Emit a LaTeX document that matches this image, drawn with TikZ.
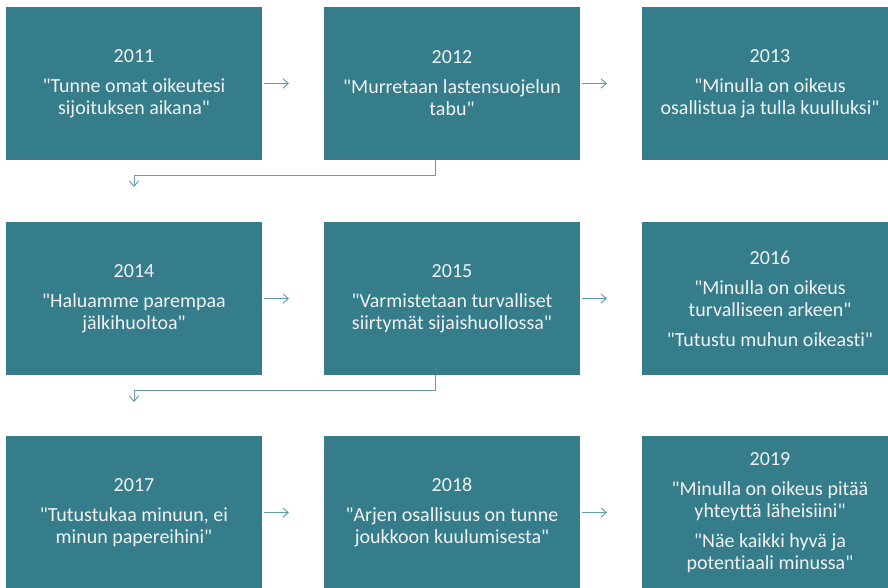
\documentclass[tikz,border=0pt]{standalone}
\usepackage{fontspec}
\setmainfont{Carlito}[Ligatures={TeXOff,NoCommon}]
\usepackage{xcolor}
\usepackage{tikz}
\usetikzlibrary{positioning,arrows.meta}

\definecolor{boxteal}{RGB}{54,125,139}
\definecolor{flowteal}{RGB}{98,156,170}
\definecolor{boxtext}{RGB}{242,242,242}

\tikzset{
    yearbox/.style={rectangle, fill=boxteal, minimum width=192pt, minimum height=114.75pt,
        inner sep=0pt, align=center, text=boxtext, font=\fontsize{15}{16.5}\selectfont},
    flow/.style={draw=flowteal, line width=0.7pt, -{Straight Barb[length=4pt,width=7pt]}}
}

\begin{document}
\begin{tikzpicture}[x=0.75pt, y=-0.75pt]
    \clip (0,0) rectangle (888,587);

    % Row 1
    \node[yearbox] (y2011) at (134,83.5) {2011\\[6pt]"Tunne omat oikeutesi\\sijoituksen aikana"};
    \node[yearbox] (y2012) at (452,83.5) {2012\\[6pt]"Murretaan lastensuojelun\\tabu"};
    \node[yearbox] (y2013) at (770,83.5) {2013\\[6pt]"Minulla on oikeus\\osallistua ja tulla kuulluksi"};

    % Row 2
    \node[yearbox] (y2014) at (134,298.5) {2014\\[6pt]"Haluamme parempaa\\jälkihuoltoa"};
    \node[yearbox] (y2015) at (452,298.5) {2015\\[6pt]"Varmistetaan turvalliset\\siirtymät sijaishuollossa"};
    \node[yearbox] (y2016) at (770,298.5) {2016\\[6pt]"Minulla on oikeus\\turvalliseen arkeen"\\[6pt]"Tutustu muhun oikeasti"};

    % Row 3
    \node[yearbox] (y2017) at (134,512.5) {2017\\[6pt]"Tutustukaa minuun, ei\\minun papereihini"};
    \node[yearbox] (y2018) at (452,512.5) {2018\\[6pt]"Arjen osallisuus on tunne\\joukkoon kuulumisesta"};
    \node[yearbox] (y2019) at (770,512.5) {2019\\[6pt]"Minulla on oikeus pitää\\yhteyttä läheisiini"\\[6pt]"Näe kaikki hyvä ja\\potentiaali minussa"};

    % Arrow ends
    \coordinate (t12) at (289,83.5);
    \coordinate (t23) at (607,83.5);
    \coordinate (t45) at (289,298.5);
    \coordinate (t56) at (607,298.5);
    \coordinate (t78) at (289,512.5);
    \coordinate (t89) at (607,512.5);
    \coordinate (turn1) at (435,175);
    \coordinate (turn2) at (435,390);
    \coordinate (t14) at (134,187);
    \coordinate (t47) at (134,402);

    % Connections
    \draw[flow] ([xshift=1.5pt]y2011.east) -- (t12);
    \draw[flow] ([xshift=1.5pt]y2012.east) -- (t23);
    \draw[flow] ([xshift=1.5pt]y2014.east) -- (t45);
    \draw[flow] ([xshift=1.5pt]y2015.east) -- (t56);
    \draw[flow] ([xshift=1.5pt]y2017.east) -- (t78);
    \draw[flow] ([xshift=1.5pt]y2018.east) -- (t89);
    \draw[flow] (y2012.south -| turn1) -- (turn1) -| (t14);
    \draw[flow] (y2015.south -| turn2) -- (turn2) -| (t47);
\end{tikzpicture}
\end{document}
